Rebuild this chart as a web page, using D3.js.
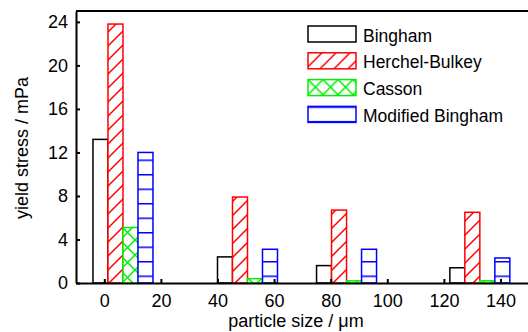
<!DOCTYPE html>
<html>
<head>
<meta charset="utf-8">
<script src="https://cdn.jsdelivr.net/npm/d3@7"></script>
<style>
  html, body { margin: 0; padding: 0; background: #fff; }
  svg text { font-family: "Liberation Sans", Arial, sans-serif; fill: #000; }
</style>
</head>
<body>
<svg id="chart" width="528" height="332"></svg>
<script>
// particle size of each group (um) and yield stress per model (mPa)
const sizes = [6.6, 50.6, 85.6, 132.7];
const models = ['Bingham', 'Herchel-Bulkey', 'Casson', 'Modified Bingham'];
const bingham = [13.2, 2.4, 1.6, 1.4];
const herschel = [23.8, 7.9, 6.7, 6.5];
const casson = [5.1, 0.4, 0.2, 0.2];
const modBingham = [12.0, 3.1, 3.1, 2.3];
const xTicks = [0, 20, 40, 60, 80, 100, 120, 140];
const yTicks = [0, 4, 8, 12, 16, 20, 24];

const series = [bingham, herschel, casson, modBingham];
const colors = ['#000', '#ff0000', '#00f000', '#0000ff'];
const fills = ['#fff', 'url(#hatch)', 'url(#cross)', 'url(#hlines)'];
const barW = 5.3;

const svg = d3.select('#chart');
const plotLeft = 76, plotTop = 11, plotBottom = 283;

const x = d3.scaleLinear().domain([-10, 155]).range([plotLeft, plotLeft + 165 * 2.83]);
const y = d3.scaleLinear().domain([0, 25]).range([plotBottom, plotTop]);

// fill patterns
const defs = svg.append('defs');
defs.append('pattern')
  .attr('id', 'hatch').attr('patternUnits', 'userSpaceOnUse')
  .attr('width', 14).attr('height', 14)
  .call(p => {
    p.append('rect').attr('width', 14).attr('height', 14).attr('fill', '#fff');
    p.append('path').attr('d', 'M0,14L14,0M-4,4L4,-4M10,18L18,10')
      .attr('stroke', '#ff0000').attr('stroke-width', 1.5);
  });
defs.append('pattern')
  .attr('id', 'cross').attr('patternUnits', 'userSpaceOnUse')
  .attr('width', 15).attr('height', 15)
  .call(p => {
    p.append('rect').attr('width', 15).attr('height', 15).attr('fill', '#fff');
    p.append('path').attr('d', 'M0,0L15,15M15,0L0,15')
      .attr('stroke', '#00f000').attr('stroke-width', 1.5);
  });
defs.append('pattern')
  .attr('id', 'hlines').attr('patternUnits', 'userSpaceOnUse')
  .attr('width', 10).attr('height', 14.5)
  .call(p => {
    p.append('rect').attr('width', 10).attr('height', 14.5).attr('fill', '#fff');
    p.append('path').attr('d', 'M0,0.75H10')
      .attr('stroke', '#0000ff').attr('stroke-width', 1.5);
  });

// bars
series.forEach((vals, k) => {
  svg.append('g').selectAll('rect')
    .data(vals)
    .join('rect')
    .attr('x', (d, i) => x(sizes[i] + (k - 2) * barW))
    .attr('width', x(barW) - x(0))
    .attr('y', d => y(d))
    .attr('height', d => y(0) - y(d))
    .attr('fill', fills[k])
    .attr('stroke', colors[k])
    .attr('stroke-width', 1.5);
});

// axes
const xAxis = d3.axisBottom(x).tickValues(xTicks).tickSizeInner(-4).tickSizeOuter(0).tickPadding(11);
const yAxis = d3.axisLeft(y).tickValues(yTicks).tickSizeInner(-4).tickSizeOuter(0).tickPadding(8);

const gx = svg.append('g').attr('transform', `translate(0,${plotBottom})`).call(xAxis);
const gy = svg.append('g').attr('transform', `translate(${plotLeft},0)`).call(yAxis);
[gx, gy].forEach(g => {
  g.selectAll('path, line').attr('stroke', '#000').attr('stroke-width', 2);
  g.selectAll('text').attr('font-size', 18).attr('font-family', '"Liberation Sans", Arial, sans-serif');
});

// top frame line
svg.append('line')
  .attr('x1', plotLeft).attr('x2', x(155))
  .attr('y1', y(25)).attr('y2', y(25))
  .attr('stroke', '#000').attr('stroke-width', 2);

// axis titles
svg.append('text')
  .attr('x', 296).attr('y', 327)
  .attr('text-anchor', 'middle').attr('font-size', 18)
  .text('particle size / μm');
svg.append('text')
  .attr('transform', 'translate(28,148) rotate(-90)')
  .attr('text-anchor', 'middle').attr('font-size', 18)
  .text('yield stress / mPa');

// legend
const legend = svg.append('g').attr('transform', 'translate(308,26)');
const row = legend.selectAll('g')
  .data(models)
  .join('g')
  .attr('transform', (d, i) => `translate(0,${i * 26.8})`);
row.append('rect')
  .attr('width', 48).attr('height', 16)
  .attr('fill', (d, i) => fills[i])
  .attr('stroke', (d, i) => colors[i])
  .attr('stroke-width', 1.5);
row.append('text')
  .attr('x', 55).attr('y', 15.5)
  .attr('font-size', 17.5)
  .text(d => d);
</script>
</body>
</html>
